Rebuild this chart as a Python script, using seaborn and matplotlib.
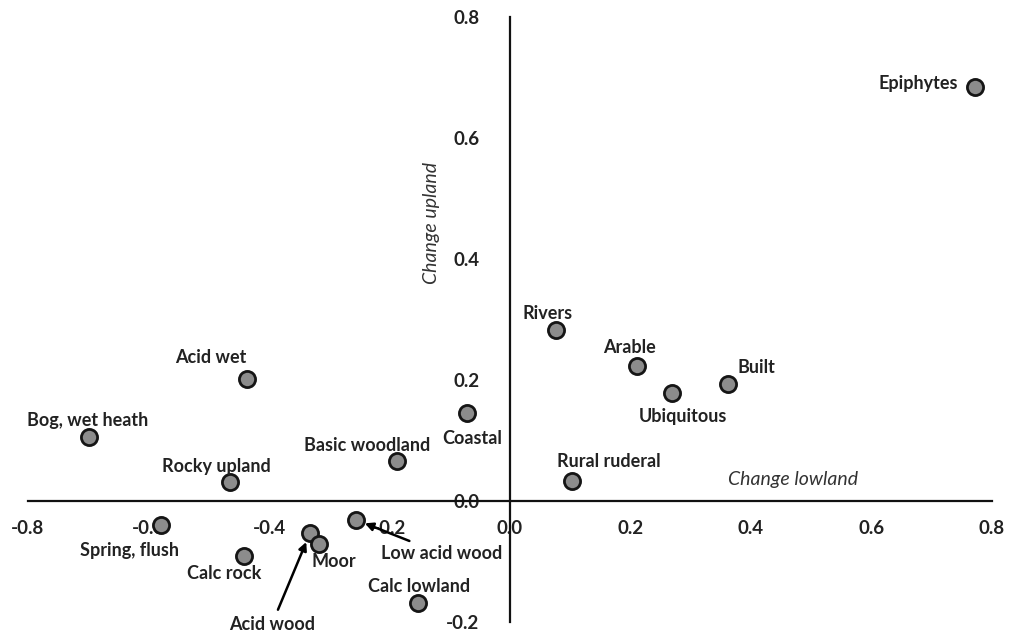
import matplotlib
matplotlib.use("Agg")
import matplotlib.pyplot as plt
import seaborn as sns
import pandas as pd

# habitat groups, change in lowland vs upland
habitats = ["Epiphytes", "Rivers", "Arable", "Built", "Ubiquitous", "Rural ruderal",
            "Coastal", "Basic woodland", "Acid wet", "Bog, wet heath", "Rocky upland",
            "Spring, flush", "Calc rock", "Acid wood", "Moor", "Low acid wood",
            "Calc lowland"]
change_lowland = [0.772, 0.076, 0.211, 0.362, 0.269, 0.103, -0.071, -0.188, -0.437,
                  -0.699, -0.465, -0.579, -0.441, -0.332, -0.317, -0.256, -0.153]
change_upland = [0.684, 0.283, 0.223, 0.193, 0.179, 0.033, 0.145, 0.066, 0.202,
                 0.106, 0.031, -0.040, -0.091, -0.053, -0.071, -0.031, -0.169]

df = pd.DataFrame({"habitat": habitats, "lowland": change_lowland, "upland": change_upland})

# label offsets in pixels from each point (text centre)
label_offsets = {
    "Epiphytes": (-57, 4), "Rivers": (-8, 16), "Arable": (-8, 19), "Built": (28, 17),
    "Ubiquitous": (11, -24), "Rural ruderal": (37, 20), "Coastal": (5, -25),
    "Basic woodland": (-30, 16), "Acid wet": (-36, 21), "Bog, wet heath": (-1, 16),
    "Rocky upland": (-13, 16), "Spring, flush": (-32, -25), "Calc rock": (-20, -17),
    "Acid wood": (-38, -91), "Moor": (15, -18), "Low acid wood": (86, -34),
    "Calc lowland": (1, 17),
}
arrowed = {"Acid wood", "Low acid wood"}

sns.set_style("white")
plt.rcParams["font.family"] = ["Lato", "DejaVu Sans"]

fig = plt.figure(figsize=(10.15, 6.36), dpi=100)
ax = fig.add_axes([28 / 1015, 14 / 636, 964 / 1015, 605 / 636])

sns.scatterplot(data=df, x="lowland", y="upland", ax=ax, s=135, color="#8c8c8c",
                edgecolor="#151515", linewidth=2.0, zorder=3, legend=False)

ax.set_xlim(-0.8, 0.8)
ax.set_ylim(-0.2, 0.8)
ax.set_xticks([-0.8, -0.6, -0.4, -0.2, 0.0, 0.2, 0.4, 0.6, 0.8])
ax.set_yticks([-0.2, 0.0, 0.2, 0.4, 0.6, 0.8])
ax.set_xticklabels([f"{v:.1f}" for v in ax.get_xticks()])
ax.set_yticklabels(["-0.2", "0.0", "0.2", "0.4", "0.6", "0.8"])

# axes through the origin
ax.spines["left"].set_position(("data", 0))
ax.spines["bottom"].set_position(("data", 0))
ax.spines["top"].set_visible(False)
ax.spines["right"].set_visible(False)
for side in ["left", "bottom"]:
    ax.spines[side].set_linewidth(1.6)
    ax.spines[side].set_color("#111111")
ax.tick_params(axis="x", direction="in", length=6, width=1.6, labelsize=13.5, pad=14, colors="#222222")
ax.tick_params(axis="y", direction="out", length=6, width=1.6, labelsize=13.5, pad=16, colors="#222222")
for lbl in ax.get_xticklabels() + ax.get_yticklabels():
    lbl.set_fontweight("bold")
ax.set_xlabel("")
ax.set_ylabel("")

ax.text(0.47, 0.035, "Change lowland", style="italic", fontsize=14, color="#333333",
        ha="center", va="center")
ax.text(-0.13, 0.46, "Change upland", style="italic", fontsize=14, color="#333333",
        rotation=90, ha="center", va="center")

for name, x, y in zip(habitats, change_lowland, change_upland):
    dx, dy = label_offsets[name]
    props = None
    if name in arrowed:
        props = dict(arrowstyle="-|>", color="black", lw=1.8, shrinkA=2, shrinkB=7,
                     mutation_scale=12)
    ax.annotate(name, (x, y), xytext=(dx, dy), textcoords="offset pixels",
                ha="center", va="center", fontsize=13, fontweight="bold",
                color="#222222", arrowprops=props, zorder=4)

fig.savefig("out.png", dpi=100)
